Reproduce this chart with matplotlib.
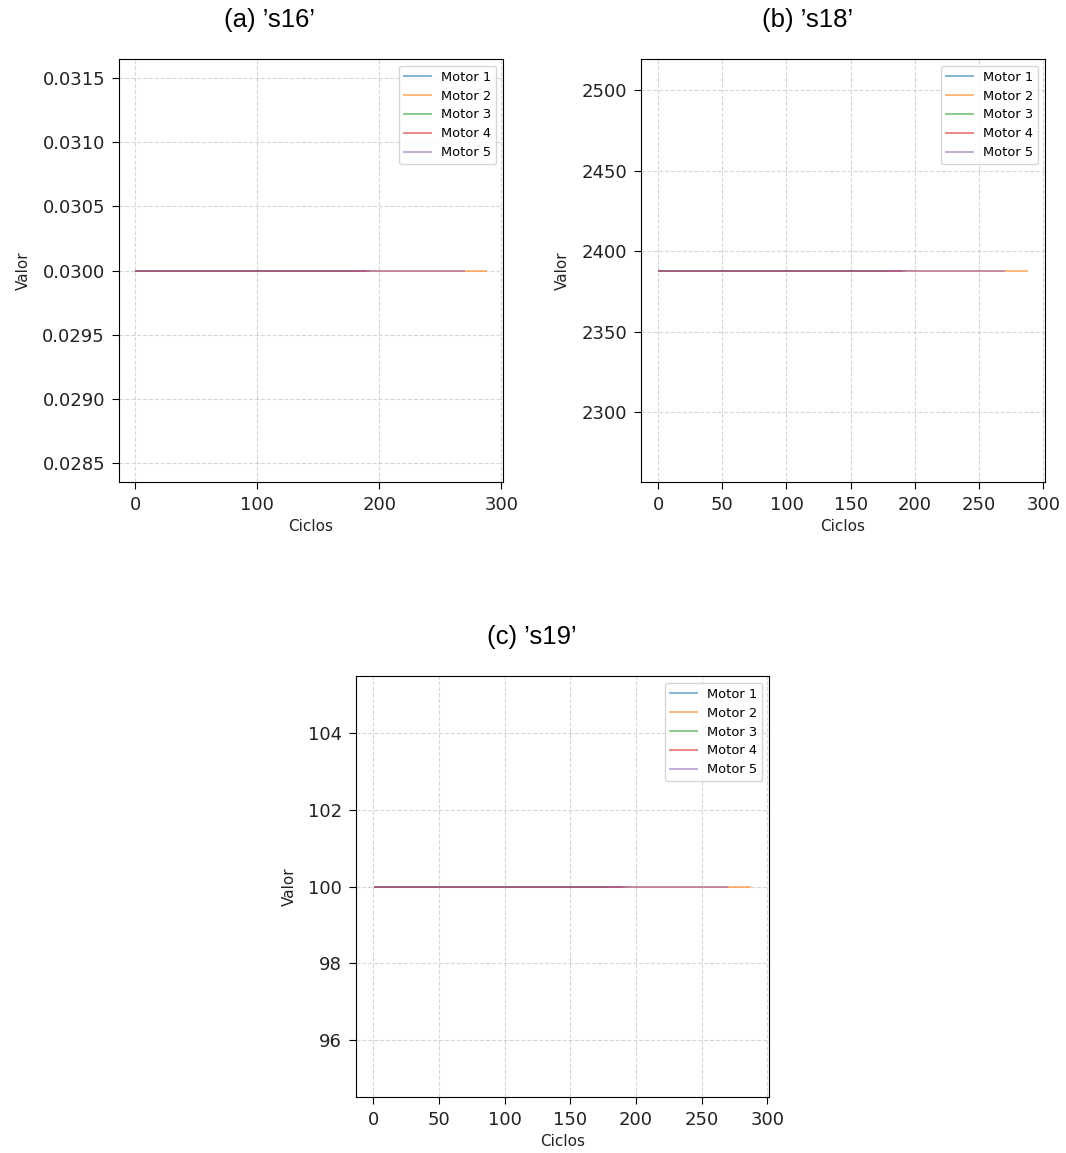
import matplotlib
matplotlib.use("Agg")
import matplotlib.pyplot as plt
import numpy as np

# engine lengths (cycles) for the five motors
motors = ["Motor 1", "Motor 2", "Motor 3", "Motor 4", "Motor 5"]
cycles = [192, 287, 179, 189, 269]

# constant sensor readings
sensors = ["s16", "s18", "s19"]
values = [0.03, 2388.0, 100.0]
letters = ["a", "b", "c"]

colors = ["tab:blue", "tab:orange", "tab:green", "tab:red", "tab:purple"]

fig = plt.figure(figsize=(10.66, 11.53), dpi=100)

W, H = 1066, 1153
boxes = [(119, 59, 503, 482), (641, 59, 1045, 482), (356, 676, 769, 1097)]
title_pos = [(269, 20), (808, 20), (532, 637)]
xticks = [[0, 100, 200, 300], [0, 50, 100, 150, 200, 250, 300], [0, 50, 100, 150, 200, 250, 300]]

for k in range(3):
    l, t, r, b = boxes[k]
    ax = fig.add_axes([l / W, 1 - b / H, (r - l) / W, (b - t) / H])
    for i in range(len(motors)):
        x = np.arange(1, cycles[i] + 1)
        y = np.full(cycles[i], values[k])
        ax.plot(x, y, color=colors[i], lw=1.4, alpha=0.55, label=motors[i])
    ax.set_xticks(xticks[k])
    ax.grid(True, linestyle="--", alpha=0.5)
    ax.set_xlabel("Ciclos", fontsize=11, color="#222222")
    ax.set_ylabel("Valor", fontsize=11, color="#222222", labelpad=8)
    ax.tick_params(labelsize=13, length=5, pad=5, labelcolor="#222222")
    ax.legend(loc="upper right", fontsize=9.4, handlelength=2.0, labelspacing=0.45)
    tx, ty = title_pos[k]
    fig.text(tx / W, 1 - ty / H, "(%s) \u2019%s\u2019" % (letters[k], sensors[k]),
             ha="center", va="center", fontsize=18.5, family="Liberation Sans")

fig.savefig("out.png", dpi=100)
